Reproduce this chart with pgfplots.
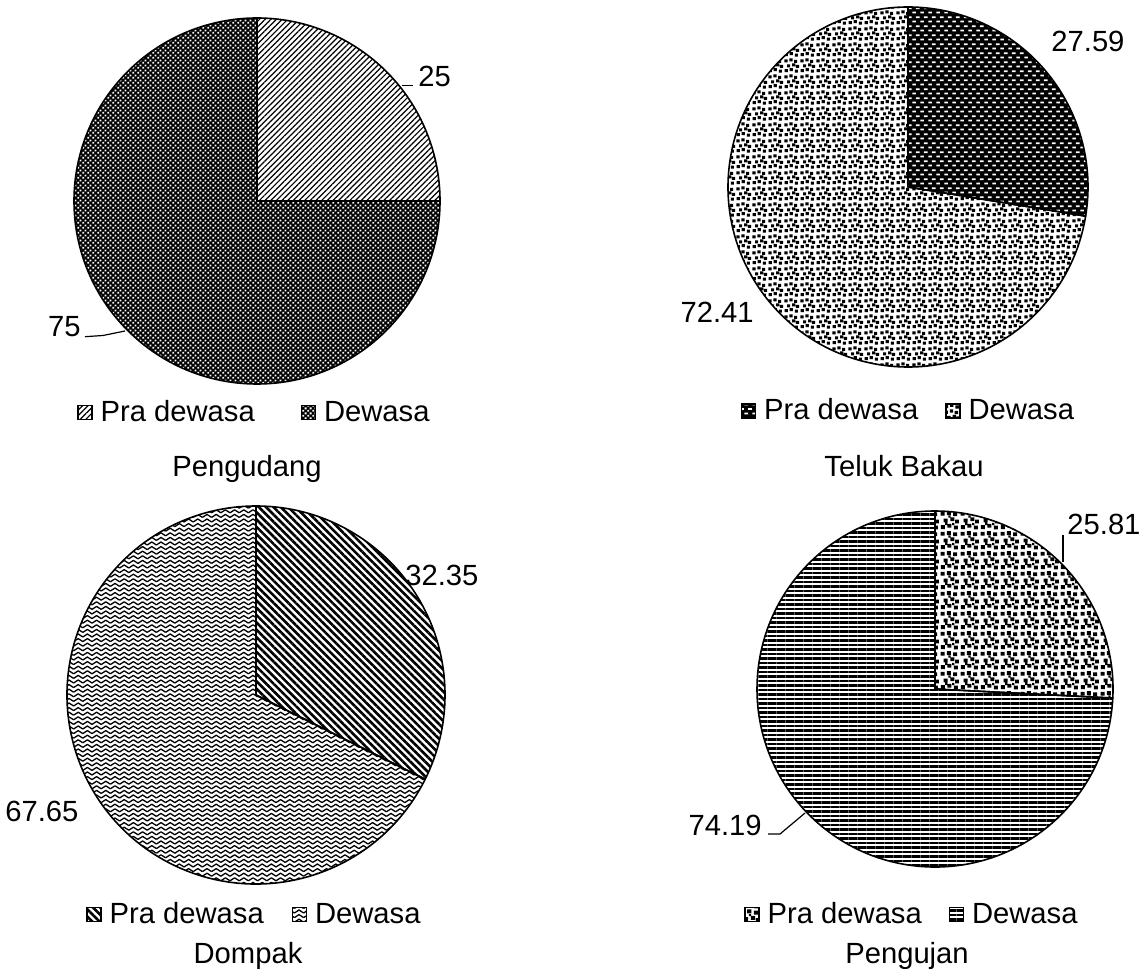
\documentclass[border=0pt]{standalone}
\usepackage{fontspec}
\setmainfont{Liberation Sans}
\usepackage{pgfplots}
\pgfplotsset{compat=1.18}
\usetikzlibrary{patterns,patterns.meta}

% small black squares scattered on white
\pgfdeclarepatternformonly{confetti}{\pgfpointorigin}{\pgfpoint{8pt}{8pt}}{\pgfpoint{8pt}{8pt}}{%
  \pgfpathrectangle{\pgfpoint{0.3pt}{0.4pt}}{\pgfpoint{1.7pt}{1.6pt}}%
  \pgfpathrectangle{\pgfpoint{3.0pt}{1.0pt}}{\pgfpoint{1.7pt}{1.6pt}}%
  \pgfpathrectangle{\pgfpoint{5.7pt}{0.2pt}}{\pgfpoint{1.7pt}{1.6pt}}%
  \pgfpathrectangle{\pgfpoint{1.6pt}{3.0pt}}{\pgfpoint{1.7pt}{1.6pt}}%
  \pgfpathrectangle{\pgfpoint{4.3pt}{3.5pt}}{\pgfpoint{1.7pt}{1.6pt}}%
  \pgfpathrectangle{\pgfpoint{6.3pt}{2.7pt}}{\pgfpoint{1.7pt}{1.6pt}}%
  \pgfpathrectangle{\pgfpoint{0.2pt}{5.6pt}}{\pgfpoint{1.7pt}{1.6pt}}%
  \pgfpathrectangle{\pgfpoint{2.9pt}{6.2pt}}{\pgfpoint{1.7pt}{1.6pt}}%
  \pgfpathrectangle{\pgfpoint{5.3pt}{5.4pt}}{\pgfpoint{1.7pt}{1.6pt}}%
  \pgfusepath{fill}}
% larger scattered squares
\pgfdeclarepatternformonly{confettibig}{\pgfpointorigin}{\pgfpoint{10pt}{10pt}}{\pgfpoint{10pt}{10pt}}{%
  \pgfpathrectangle{\pgfpoint{0.4pt}{0.5pt}}{\pgfpoint{2.1pt}{2.0pt}}%
  \pgfpathrectangle{\pgfpoint{3.8pt}{1.2pt}}{\pgfpoint{2.1pt}{2.0pt}}%
  \pgfpathrectangle{\pgfpoint{7.2pt}{0.3pt}}{\pgfpoint{2.1pt}{2.0pt}}%
  \pgfpathrectangle{\pgfpoint{1.9pt}{4.0pt}}{\pgfpoint{2.1pt}{2.0pt}}%
  \pgfpathrectangle{\pgfpoint{5.4pt}{4.6pt}}{\pgfpoint{2.1pt}{2.0pt}}%
  \pgfpathrectangle{\pgfpoint{7.9pt}{3.4pt}}{\pgfpoint{2.0pt}{2.0pt}}%
  \pgfpathrectangle{\pgfpoint{0.3pt}{7.5pt}}{\pgfpoint{2.1pt}{2.0pt}}%
  \pgfpathrectangle{\pgfpoint{3.6pt}{7.8pt}}{\pgfpoint{2.1pt}{2.0pt}}%
  \pgfpathrectangle{\pgfpoint{6.9pt}{7.2pt}}{\pgfpoint{2.1pt}{2.0pt}}%
  \pgfpathrectangle{\pgfpoint{2.7pt}{2.6pt}}{\pgfpoint{1.2pt}{1.2pt}}%
  \pgfpathrectangle{\pgfpoint{6.3pt}{2.5pt}}{\pgfpoint{1.2pt}{1.2pt}}%
  \pgfpathrectangle{\pgfpoint{4.4pt}{6.4pt}}{\pgfpoint{1.1pt}{1.1pt}}%
  \pgfusepath{fill}}
% fine checks (used white on black)
\pgfdeclarepatternformonly{smallchecks}{\pgfpointorigin}{\pgfpoint{2.4pt}{2.4pt}}{\pgfpoint{2.4pt}{2.4pt}}{%
  \pgfpathrectangle{\pgfpoint{0.15pt}{0.15pt}}{\pgfpoint{0.9pt}{0.9pt}}%
  \pgfpathrectangle{\pgfpoint{1.35pt}{1.35pt}}{\pgfpoint{0.9pt}{0.9pt}}%
  \pgfusepath{fill}}
% short dashes in offset rows (used white on black)
\pgfdeclarepatternformonly{dashbricks}{\pgfpointorigin}{\pgfpoint{4pt}{4.4pt}}{\pgfpoint{4pt}{4.4pt}}{%
  \pgfpathrectangle{\pgfpoint{0.2pt}{0.3pt}}{\pgfpoint{2.0pt}{0.9pt}}%
  \pgfpathrectangle{\pgfpoint{2.2pt}{2.5pt}}{\pgfpoint{2.0pt}{0.9pt}}%
  \pgfusepath{fill}}
% zigzag weave
\pgfdeclarepatternformonly{zigzag}{\pgfpoint{-0.5pt}{-0.5pt}}{\pgfpoint{5.5pt}{3pt}}{\pgfpoint{4.6pt}{2.3pt}}{%
  \pgfsetlinewidth{0.65pt}%
  \pgfpathmoveto{\pgfpoint{0pt}{0.4pt}}%
  \pgfpathlineto{\pgfpoint{2.3pt}{1.9pt}}%
  \pgfpathlineto{\pgfpoint{4.6pt}{0.4pt}}%
  \pgfusepath{stroke}}

\tikzset{
  pA/.style={pattern={Lines[angle=45,distance=2pt,line width=0.6pt]}},
  dA/.style={preaction={fill=black}, pattern=smallchecks, pattern color=white},
  pB/.style={preaction={fill=black}, pattern=dashbricks, pattern color=white},
  dB/.style={pattern=confetti},
  pC/.style={pattern={Lines[angle=-45,distance=2.6pt,line width=1.3pt]}},
  dC/.style={pattern=zigzag},
  pD/.style={pattern=confettibig},
  dD/.style={pattern={Lines[angle=0,distance=2.25pt,line width=1.15pt]}},
}

% slice: #1 cumulative start (%), #2 value (%), #3 radius, #4 style
\newcommand{\slice}[4]{%
  \path[draw=black, line width=0.8pt, line join=round, #4]
    (axis cs:0,0) -- ++({90-3.6*#1}:#3)
    arc[start angle={90-3.6*#1}, end angle={90-3.6*(#1+#2)}, radius=#3] -- cycle;}

\pgfplotsset{
  legend image code/.code={\draw[line width=0.6pt,#1] (0pt,-3.5pt) rectangle (7pt,3.5pt);},
  pie/.style={hide axis, scale only axis, clip=false,
    xmin=-1, xmax=1, ymin=-1, ymax=1, anchor=center,
    legend columns=2,
    legend style={draw=none, fill=none, inner sep=0pt, anchor=center,
      nodes={inner sep=0pt},
      font=\fontsize{14.6}{17}\selectfont,
      /tikz/every odd column/.append style={column sep=4pt}}},
}

\begin{document}
\begin{tikzpicture}[x=0.5pt, y=0.5pt, font=\fontsize{14.6}{17}\selectfont]
\useasboundingbox (0,0) rectangle (1143,969);

% ---------- Pengudang ----------
\begin{axis}[pie, at={(128.5pt,384pt)}, width=183pt, height=183pt,
  legend style={at={(0.4904,-0.078)}, /tikz/every even column/.append style={column sep=23pt}}]
  \slice{0}{25}{91.5pt}{pA}
  \slice{25}{75}{91.5pt}{dA}
  \addlegendimage{pA}\addlegendentry{Pra dewasa}
  \addlegendimage{dA}\addlegendentry{Dewasa}
\end{axis}

% ---------- Teluk Bakau ----------
\begin{axis}[pie, at={(454pt,391pt)}, width=180pt, height=180pt,
  legend style={at={(0.4986,-0.122)}, /tikz/every even column/.append style={column sep=13.5pt}}]
  \slice{0}{27.59}{90pt}{pB}
  \slice{27.59}{72.41}{90pt}{dB}
  \addlegendimage{pB}\addlegendentry{Pra dewasa}
  \addlegendimage{dB}\addlegendentry{Dewasa}
\end{axis}

% ---------- Dompak ----------
\begin{axis}[pie, at={(128pt,137pt)}, width=189pt, height=189pt,
  legend style={at={(0.4934,-0.081)}, /tikz/every even column/.append style={column sep=14pt}}]
  \slice{0}{32.35}{94.5pt}{pC}
  \slice{32.35}{67.65}{94.5pt}{dC}
  \addlegendimage{pC}\addlegendentry{Pra dewasa}
  \addlegendimage{dC}\addlegendentry{Dewasa}
\end{axis}

% ---------- Pengujan ----------
\begin{axis}[pie, at={(467.5pt,140pt)}, width=178pt, height=178pt,
  legend style={at={(0.4326,-0.134)}, /tikz/every even column/.append style={column sep=13.5pt}}]
  \slice{0}{25.81}{89pt}{pD}
  \slice{25.81}{74.19}{89pt}{dD}
  \addlegendimage{pD}\addlegendentry{Pra dewasa}
  \addlegendimage{dD}\addlegendentry{Dewasa}
\end{axis}

% ---------- value labels ----------
\node[anchor=base west, inner sep=0pt] at (418,882) {25};
\draw[line width=0.6pt] (401.7,883.3) -- (413.3,883.3);
\node[anchor=base east, inner sep=0pt] at (81,632) {75};
\draw[line width=0.6pt] (85,632.3) -- (103,633.5) -- (125,638);

\node[anchor=base west, inner sep=0pt] at (1051,917) {27.59};
\node[anchor=base east, inner sep=0pt] at (754,646) {72.41};

\node[anchor=base west, inner sep=0pt] at (405,384) {32.35};
\node[anchor=base west, inner sep=0pt] at (5,148) {67.65};

\node[anchor=base west, inner sep=0pt] at (1067,434) {25.81};
\draw[line width=0.6pt] (1063,434) -- (1063,407);
\node[anchor=base east, inner sep=0pt] at (762,134) {74.19};
\draw[line width=0.6pt] (768,135) -- (780,135) -- (805,156);

% ---------- titles ----------
\node[anchor=base, inner sep=0pt] at (247,492) {Pengudang};
\node[anchor=base, inner sep=0pt] at (904,492) {Teluk Bakau};
\node[anchor=base, inner sep=0pt] at (248,6) {Dompak};
\node[anchor=base, inner sep=0pt] at (907,6) {Pengujan};
\end{tikzpicture}
\end{document}
